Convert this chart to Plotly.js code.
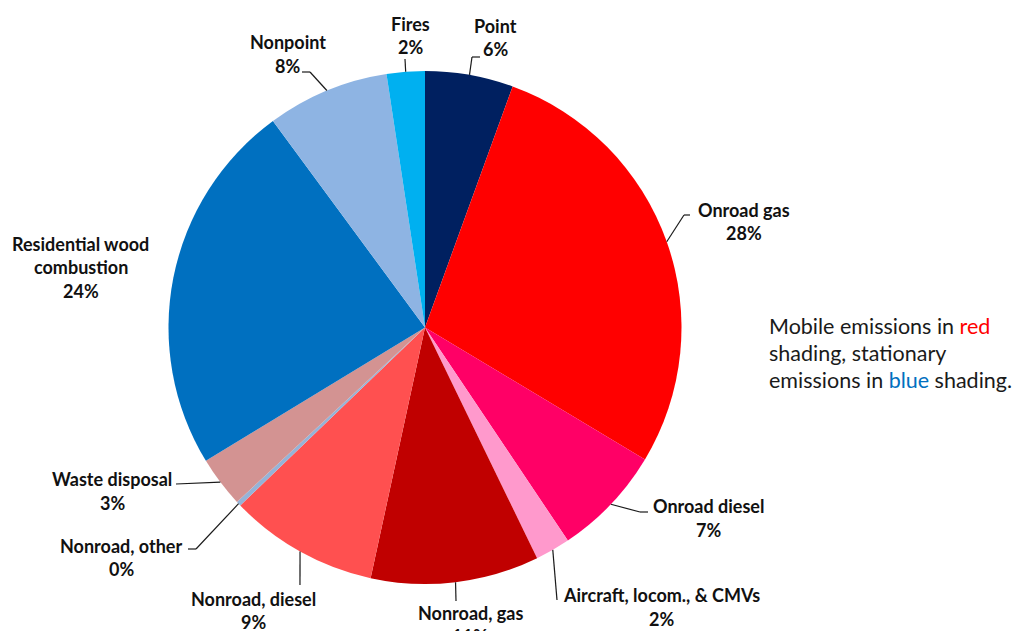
<!DOCTYPE html>
<html>
<head>
<meta charset="utf-8">
<script src="https://cdn.plot.ly/plotly-3.0.1.min.js"></script>
<style>html,body{margin:0;padding:0;background:#fff;}#chart{width:1018px;height:631px;}</style>
</head>
<body>
<div id="chart"></div>
<script>
// ---- data ----
const categories = ["Point", "Onroad gas", "Onroad diesel", "Aircraft, locom., & CMVs", "Nonroad, gas",
  "Nonroad, diesel", "Nonroad, other", "Waste disposal", "Residential wood\ncombustion", "Nonpoint", "Fires"];
const shares = [5.55, 28.05, 7.0, 2.2, 10.6, 9.4, 0.3, 3.2, 23.6, 7.7, 2.4];
const sliceColors = ["#002060", "#FF0000", "#FF0066", "#FF99CC", "#C00000",
  "#FF5050", "#95B3D7", "#D39392", "#0070C0", "#8EB4E3", "#00B0F0"];
const noteLines = [
  [["Mobile emissions in ", "#1a1a1a"], ["red", "#FF0000"]],
  [["shading, stationary", "#1a1a1a"]],
  [["emissions in ", "#1a1a1a"], ["blue", "#0070C0"], [" shading.", "#1a1a1a"]]
];

// ---- layout configuration (pixels) ----
const W = 1018, H = 631;
const CX = 425, CY = 327.5, R = 256.5;
const LINE_GAP = 23.5;
const labelPlace = [
  {x: 495,   y: 26,    elbow: [472, 57],  end: [480, 57]},
  {x: 744,   y: 210,   elbow: [684, 215], end: [690, 215]},
  {x: 708,   y: 506.5, elbow: [640, 512], end: [648, 512]},
  {x: 661,   y: 595,   end: [557, 600]},
  {x: 470,   y: 612.5, end: [456, 601]},
  {x: 253,   y: 598.5, end: [300, 585]},
  {x: 121,   y: 545.5, elbow: [196, 549], end: [188, 549]},
  {x: 112,   y: 479,   end: [176, 484]},
  {x: 80.5,  y: 244},
  {x: 287.5, y: 42.5,  elbow: [310, 72],  end: [302, 72]},
  {x: 410.5, y: 24,    end: [405, 59]}
];
const px = v => v / W;
const py = v => 1 - v / H;
const labelFont = {family: "Lato, 'Open Sans', sans-serif", size: 18, color: "#111111"};

const total = shares.reduce((a, b) => a + b, 0);
const annotations = [];
const shapes = [];
let cum = 0;
shares.forEach((v, i) => {
  const mid = (cum + v / 2) / total;
  cum += v;
  const th = 2 * Math.PI * mid;
  const ax = CX + R * Math.sin(th), ay = CY - R * Math.cos(th);
  const pl = labelPlace[i];
  const lines = categories[i].split("\n").concat([Math.round(v / total * 100) + "%"]);
  lines.forEach((t, k) => {
    annotations.push({
      xref: "paper", yref: "paper", x: px(pl.x), y: py(pl.y + k * LINE_GAP),
      xanchor: "center", yanchor: "middle", showarrow: false,
      text: "<b>" + t + "</b>", font: labelFont
    });
  });
  if (pl.end) {
    const pts = [[ax, ay]];
    if (pl.elbow) pts.push(pl.elbow);
    pts.push(pl.end);
    for (let k = 0; k < pts.length - 1; k++) {
      shapes.push({type: "line", xref: "paper", yref: "paper",
        x0: px(pts[k][0]), y0: py(pts[k][1]), x1: px(pts[k + 1][0]), y1: py(pts[k + 1][1]),
        line: {color: "#1a1a1a", width: 1.2}});
    }
  }
});

noteLines.forEach((parts, k) => {
  annotations.push({
    xref: "paper", yref: "paper", x: px(767), y: py(326 + k * 27),
    xanchor: "left", yanchor: "middle", showarrow: false, align: "left",
    text: parts.map(p => '<span style="color:' + p[1] + '">' + p[0] + '</span>').join(""),
    font: {family: "Lato, 'Open Sans', sans-serif", size: 21.5, color: "#1a1a1a"}
  });
});

const trace = {
  type: "pie",
  labels: categories.map(c => c.replace("\n", " ")),
  values: shares,
  sort: false,
  direction: "clockwise",
  rotation: 0,
  marker: {colors: sliceColors, line: {width: 0}},
  textinfo: "none",
  hoverinfo: "label+percent",
  domain: {x: [(CX - R) / W, (CX + R) / W], y: [py(CY + R), py(CY - R)]}
};

Plotly.newPlot("chart", [trace], {
  width: W, height: H,
  margin: {l: 0, r: 0, t: 0, b: 0},
  showlegend: false,
  paper_bgcolor: "#ffffff",
  annotations: annotations,
  shapes: shapes
}, {displayModeBar: false, staticPlot: true});
</script>
</body>
</html>
